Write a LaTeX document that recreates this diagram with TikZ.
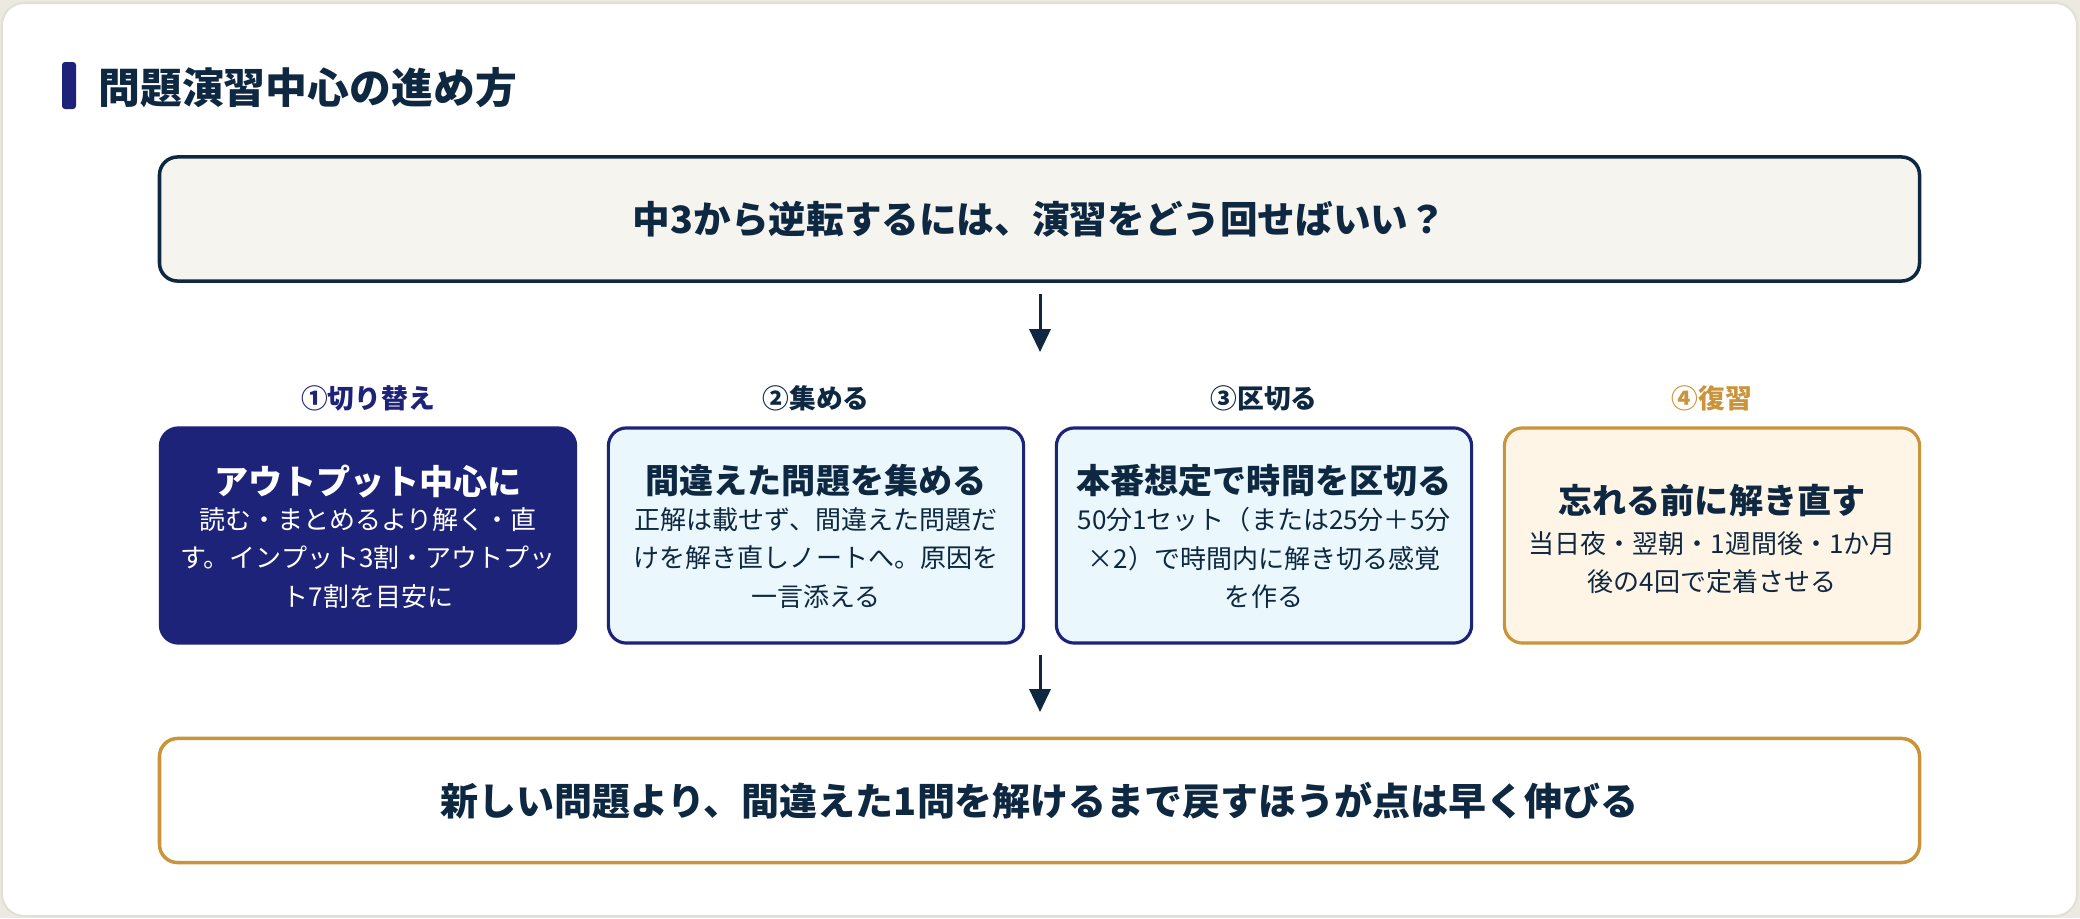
\documentclass[tikz,border=0pt]{standalone}
\usepackage{fontspec}
\setmainfont{Noto Sans CJK JP}
\usetikzlibrary{arrows.meta}
\definecolor{navy}{HTML}{1D2378}
\definecolor{ink}{HTML}{0E2841}
\definecolor{gold}{HTML}{C9943A}
\definecolor{lblue}{HTML}{EAF7FD}
\definecolor{cream}{HTML}{FFF5E6}
\definecolor{topfill}{HTML}{F5F4EF}
\definecolor{page}{HTML}{ECEAE0}
\definecolor{cardline}{HTML}{E2E0D6}
\tikzset{
  box/.style={rounded corners=18*0.01cm, line width=0.9pt, minimum width=4.15cm, minimum height=2.15cm, inner sep=0pt},
  wide/.style={rounded corners=18*0.01cm, line width=1pt, minimum width=17.59cm, minimum height=1.24cm, inner sep=0pt},
  arr/.style={draw=ink, line width=0.85pt, -{Triangle[width=6pt,length=6.5pt]}},
  ttl/.style={font=\fontsize{9.7pt}{11pt}\selectfont\bfseries, text=ink},
  bdy/.style={font=\fontsize{7.4pt}{11pt}\selectfont, text=ink, align=center},
  lbl/.style={font=\fontsize{7.6pt}{9pt}\selectfont\bfseries},
}
\begin{document}
\begin{tikzpicture}[x=0.01cm,y=-0.01cm]
\useasboundingbox (0,0) rectangle (2080,918);
\fill[page] (0,0) rectangle (2080,918);
\draw[fill=white, draw=cardline, line width=0.6pt, rounded corners=0.22cm] (2,3) rectangle (2077,916);
% title
\fill[navy, rounded corners=0.03cm] (62,62) rectangle (76,109);
\node[anchor=west, font=\fontsize{11.9pt}{13pt}\selectfont\bfseries, text=ink] (title) at (86,88) {問題演習中心の進め方};
% top box
\node[wide, draw=ink, fill=topfill] (top) at (1039.5,219) {};
\node[font=\fontsize{10.7pt}{12pt}\selectfont\bfseries, text=ink] (toptext) at (top.center) {中3から逆転するには、演習をどう回せばいい？};
\coordinate (a1s) at (1040,294);
\coordinate (a1e) at (1040,352);
\draw[arr] (a1s) -- (a1e);
% labels
\node[lbl, text=navy] (l1) at (368,398) {①切り替え};
\node[lbl, text=ink] (l2) at (816,398) {②集める};
\node[lbl, text=ink] (l3) at (1264,398) {③区切る};
\node[lbl, text=gold] (l4) at (1712,398) {④復習};
% boxes
\node[box, draw=navy, fill=navy] (b1) at (368,535.5) {};
\node[box, draw=navy, fill=lblue] (b2) at (816,535.5) {};
\node[box, draw=navy, fill=lblue] (b3) at (1264,535.5) {};
\node[box, draw=gold, fill=cream] (b4) at (1712,535.5) {};
% box 1
\node[ttl, text=white] (t1) at (368,481) {アウトプット中心に};
\node[bdy, text=white] (d1) at (368,558) {読む・まとめるより解く・直\\す。インプット3割・アウトプッ\\ト7割を目安に};
% box 2
\node[ttl] (t2) at (816,481) {間違えた問題を集める};
\node[bdy] (d2) at (816,558) {正解は載せず、間違えた問題だ\\けを解き直しノートへ。原因を\\一言添える};
% box 3
\node[ttl] (t3) at (1264,481) {本番想定で時間を区切る};
\node[bdy] (d3) at (1264,558) {50分1セット（または25分＋5分\\×2）で時間内に解き切る感覚\\を作る};
% box 4
\node[ttl] (t4) at (1712,500) {忘れる前に解き直す};
\node[bdy] (d4) at (1712,562.5) {当日夜・翌朝・1週間後・1か月\\後の4回で定着させる};
% arrow 2
\coordinate (a2s) at (1040,655);
\coordinate (a2e) at (1040,712);
\draw[arr] (a2s) -- (a2e);
% bottom box
\node[wide, draw=gold, fill=white] (bot) at (1039.5,800.5) {};
\node[font=\fontsize{10.8pt}{12pt}\selectfont\bfseries, text=ink] (bottext) at (bot.center) {新しい問題より、間違えた1問を解けるまで戻すほうが点は早く伸びる};
\end{tikzpicture}
\end{document}
